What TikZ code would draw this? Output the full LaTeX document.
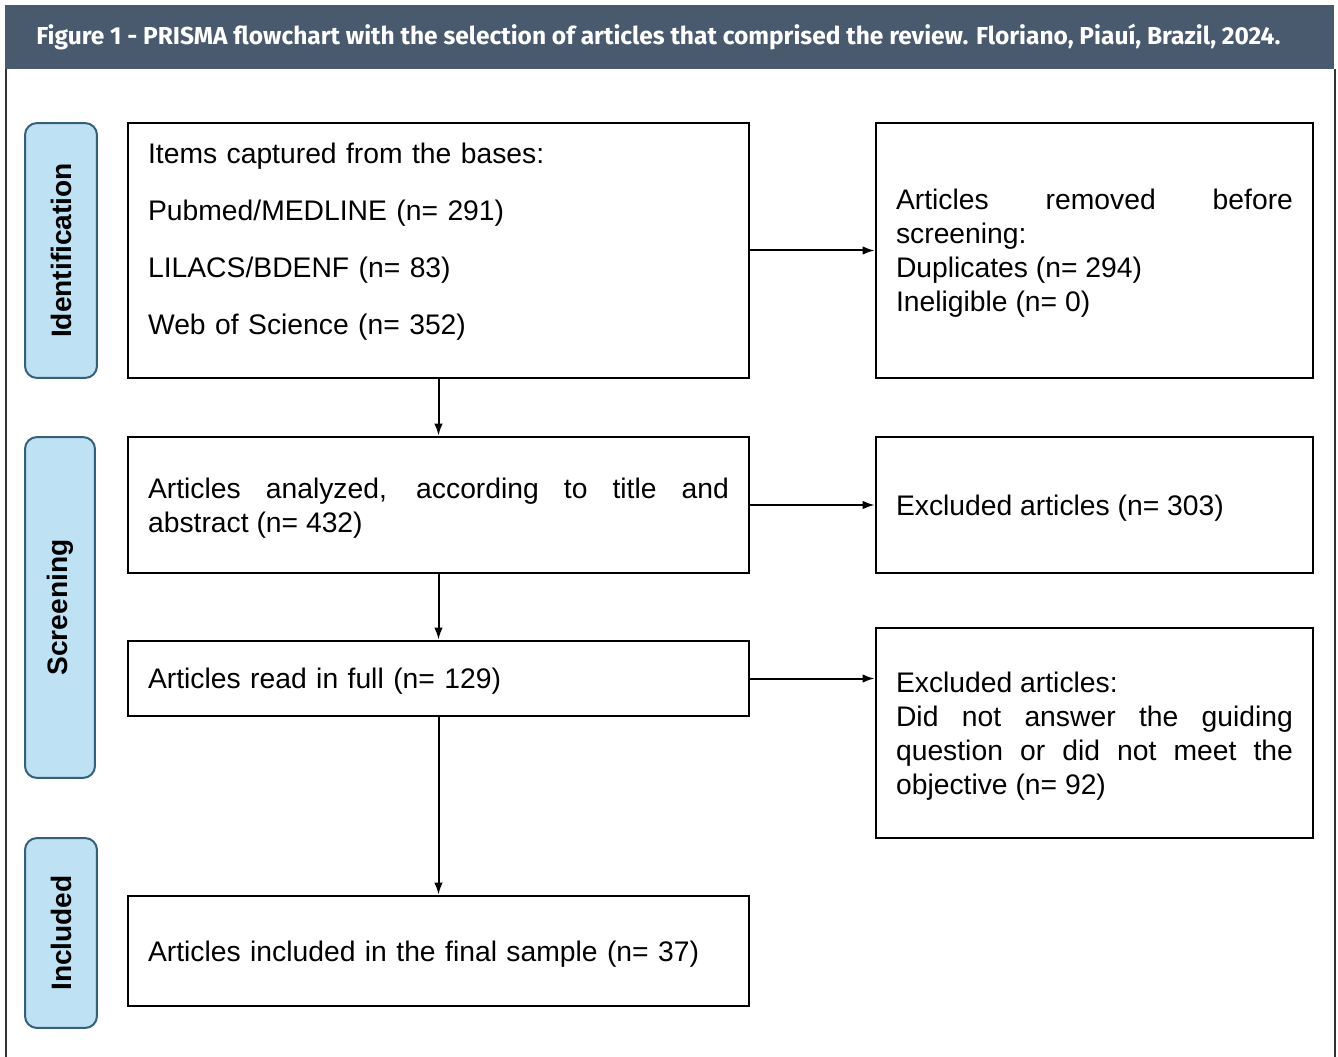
\documentclass[tikz,border=0pt]{standalone}
\usepackage{fontspec}
\setmainfont{Liberation Sans}
\newfontfamily\titlefont{Fira Sans}
\usetikzlibrary{arrows.meta,positioning}
\definecolor{headblue}{HTML}{4A5A6E}
\definecolor{stagefill}{HTML}{BFE1F4}
\definecolor{stageline}{HTML}{35607A}
\hyphenpenalty=10000
\exhyphenpenalty=10000
\tikzset{
  basic/.style  = {draw, rectangle, line width=0.055cm, inner xsep=0.4cm, inner ysep=0pt,
                   font=\fontsize{16.1}{19.3}\selectfont,
                   execute at begin node={\rule{0pt}{0.53cm}}},
  stepbox/.style = {basic, text width=11.62cm, align=left},
  sidebox/.style = {basic, text width=7.94cm, minimum width=8.74cm, align=justify},
  stage/.style  = {draw=stageline, fill=stagefill, line width=0.04cm, rounded corners=0.24cm,
                   rotate=90, inner sep=0pt, font=\fontsize{16}{19.3}\selectfont\bfseries},
  flow/.style   = {-{Latex[length=0.24cm,width=0.17cm]}, line width=0.04cm}
}

\begin{document}
\begin{tikzpicture}[x=0.02cm, y=-0.02cm]
\useasboundingbox (0,0) rectangle (1338,1057);

% heading band and frame
\fill[headblue] (5,5) rectangle (1334,69);
\node[anchor=west, text=white, inner sep=0pt, font=\titlefont\bfseries\fontsize{13.95}{16}\selectfont] (title) at (36,37)
  {Figure 1 - PRISMA flowchart with the selection of articles that comprised the review. Floriano, Piauí, Brazil, 2024.};
\draw[black!80, line width=0.03cm] (6,69) -- (6,1057) (1335,69) -- (1335,1057);

% stages on the left
\node[stage, minimum width=5.1cm, minimum height=1.44cm] (ident) at (61,250.5) {Identification};
\node[stage, minimum width=6.82cm, minimum height=1.4cm] (screen) at (60,607.5) {Screening};
\node[stage, minimum width=3.8cm, minimum height=1.44cm] (incl) at (61,933) {Included};

% main column
\node[stepbox, minimum height=5.1cm] (items) at (438.5,250.5)
  {Items captured from the bases:\\[0.46cm]Pubmed/MEDLINE (n= 291)\\[0.46cm]LILACS/BDENF (n= 83)\\[0.46cm]Web of Science (n= 352)\\[-0.08cm]\mbox{}};
\node[stepbox, minimum height=2.72cm, align=justify] (analyzed) at (438.5,505)
  {Articles analyzed, according to title and abstract (n= 432)};
\node[stepbox, minimum height=1.5cm] (fullread) at (438.5,678.5)
  {Articles read in full (n= 129)};
\node[stepbox, minimum height=2.2cm] (sample) at (438.5,951)
  {Articles included in the final sample (n= 37)};

% exclusions on the right
\node[sidebox, minimum height=5.1cm] (removed) at (1094.5,250.5)
  {Articles removed before screening:\\Duplicates (n= 294)\\Ineligible (n= 0)};
\node[sidebox, minimum height=2.72cm] (excl1) at (1094.5,505)
  {Excluded articles (n= 303)};
\node[sidebox, minimum height=4.2cm] (excl2) at (1094.5,733)
  {Excluded articles:\\Did not answer the guiding question or did not meet the objective (n= 92)};

% connectors
\draw[flow] (items) -- (removed);
\draw[flow] (items) -- (analyzed);
\draw[flow] (analyzed) -- (excl1);
\draw[flow] (analyzed) -- (fullread);
\draw[flow] (fullread.east) -- (fullread.east -| excl2.west);
\draw[flow] (fullread) -- (sample);

\end{tikzpicture}
\end{document}
